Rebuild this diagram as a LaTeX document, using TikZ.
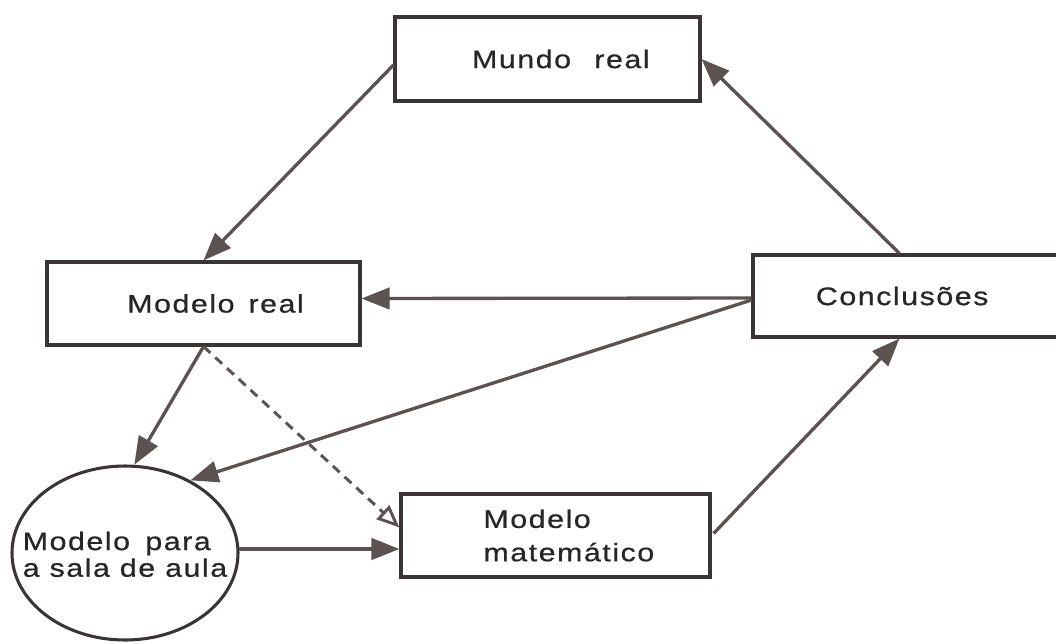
\documentclass[tikz,border=0pt]{standalone}
\usepackage{fontspec}
\setmainfont{Liberation Sans}[FakeStretch=1.2,LetterSpace=6,FakeBold=0.6]
\usetikzlibrary{arrows.meta,calc,shapes.geometric}
\definecolor{boxc}{HTML}{3A3434}
\definecolor{arrc}{HTML}{5C5250}
\begin{document}
\begin{tikzpicture}[x=0.75pt,y=-0.75pt,
  box/.style={draw=boxc,line width=2.3pt,inner sep=0pt,font=\fontsize{19}{24}\selectfont},
  txt/.style={font=\fontsize{19}{24}\selectfont,text=black!85,inner sep=0pt,align=left},
  arr/.style={draw=arrc,line width=2.5pt,-{Triangle[length=21pt,width=16pt]}},
  dasharr/.style={draw=arrc,line width=2.2pt,dash pattern=on 7pt off 5pt,-{Triangle[open,length=17pt,width=14pt,line width=2.2pt]}}]
\useasboundingbox (0,0) rectangle (1056,643);
\fill[white] (0,0) rectangle (1056,643);

\node[box,minimum width=228.75pt,minimum height=63pt,
  label={[txt,xshift=10pt]center:Mundo\ \hspace{10pt}real}] (mundo) at (547.5,59) {};
\node[box,minimum width=234.75pt,minimum height=62.25pt,
  label={[txt,xshift=9pt]center:Modelo\ \hspace{3pt}real}] (mreal) at (203.5,303.5) {};
\node[box,minimum width=231.75pt,minimum height=61.5pt,
  label={[txt,xshift=-4pt]center:Conclusões}] (concl) at (907.5,296) {};
\node[box,minimum width=231.75pt,minimum height=62.25pt,
  label={[txt,xshift=10pt,font=\fontsize{19}{25}\selectfont]center:Modelo\\matemático}] (mmat) at (555.5,535.5) {};
\node[box,ellipse,minimum width=169.5pt,minimum height=130.5pt,
  label={[txt,font=\fontsize{19}{20}\selectfont,yshift=-1pt]center:Modelo\ \hspace{4pt}para\\a sala de aula}] (ell) at (125,553) {};

\draw[arr] ($(mundo.west)+(0,6)$) -- (mreal.north);
\draw[arr] ($(concl.north)+(-8,0)$) -- (mundo.east);
\draw[arr] ($(concl.west)+(0,2)$) -- ($(mreal.east)+(0,-5)$);
\draw[arr] ($(concl.west)+(0,4)$) -- (ell.48);
\draw[arr] (mreal.south) -- (ell.84);
\draw[dasharr] (mreal.south) -- ($(mmat.west)+(0,-8)$);
\draw[arr] (ell.2) -- (mmat.west |- ell.2);
\draw[arr] ($(mmat.east)+(2,-2)$) -- ($(concl.south)+(-8,0)$);
\end{tikzpicture}
\end{document}
